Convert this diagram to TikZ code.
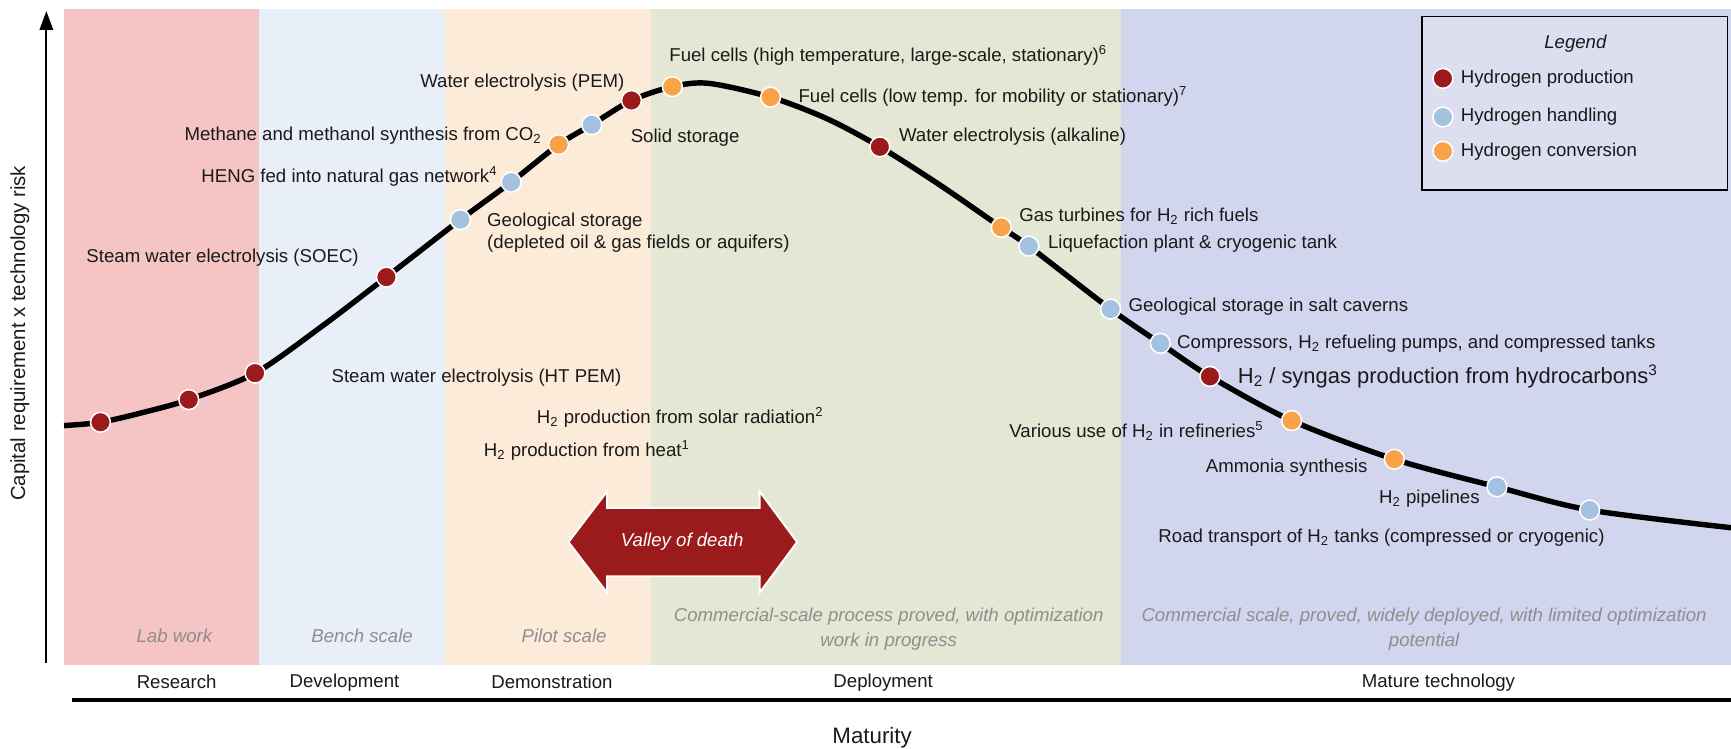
\documentclass[tikz,border=0pt]{standalone}
\usepackage{fontspec}
\setmainfont{Liberation Sans}
\usetikzlibrary{arrows.meta}
\definecolor{labband}{HTML}{F5C4C5}
\definecolor{benchband}{HTML}{E8EFF8}
\definecolor{pilotband}{HTML}{FDEBDA}
\definecolor{commband}{HTML}{E4E7D3}
\definecolor{matureband}{HTML}{D1D5EE}
\definecolor{legendfill}{HTML}{DDDEF0}
\definecolor{h2red}{HTML}{9B1A1C}
\definecolor{h2blue}{HTML}{A4C1E0}
\definecolor{h2orange}{HTML}{F9A24A}
\definecolor{bandtext}{HTML}{8E8E8E}
\definecolor{txt}{HTML}{1A1A1A}
\tikzset{
  lbl/.style={inner sep=0pt,text=txt,font=\fontsize{9.6}{11.5}\selectfont},
  bandlbl/.style={inner sep=0pt,text=bandtext,align=center,font=\fontsize{9.6}{12.5}\selectfont\itshape},
  dot/.style={circle,draw=white,line width=0.8pt,minimum size=3.6mm,inner sep=0pt},
  prod/.style={dot,fill=h2red},
  handl/.style={dot,fill=h2blue},
  conv/.style={dot,fill=h2orange}
}
\begin{document}
\begin{tikzpicture}[x=0.2mm,y=-0.2mm]
\useasboundingbox (0,0) rectangle (1568,678);
% maturity bands
\fill[labband] (58,8) rectangle (235,602);
\fill[benchband] (235,8) rectangle (403,602);
\fill[pilotband] (403,8) rectangle (590,602);
\fill[commband] (590,8) rectangle (1015,602);
\fill[matureband] (1015,8) rectangle (1568,602);
\node[bandlbl] (labw) at (158,576) {Lab work};
\node[bandlbl] (bench) at (328,576) {Bench scale};
\node[bandlbl] (pilot) at (511,576) {Pilot scale};
\node[bandlbl] (commw) at (805,570) {Commercial-scale process proved, with optimization\\work in progress};
\node[bandlbl] (maturew) at (1290,570) {Commercial scale, proved, widely deployed, with limited optimization\\potential};
% axes
\draw[line width=1.1pt,-{Triangle[length=3.4mm,width=2.4mm]}] (42,601) -- (42,10);
\draw[line width=1.7pt] (65,634) -- (1568,634);
\node[lbl,rotate=90,font=\fontsize{10.5}{12}\selectfont] (yax) at (18,302) {Capital requirement x technology risk};
\node[lbl,font=\fontsize{11.5}{13}\selectfont] (matur) at (790,668) {Maturity};
\node[lbl] (ph1) at (160,618) {Research};
\node[lbl] (ph2) at (312,618) {Development};
\node[lbl] (ph3) at (500,618) {Demonstration};
\node[lbl] (ph4) at (800,618) {Deployment};
\node[lbl] (ph5) at (1303,618) {Mature technology};
% valley of death
\fill[h2red,draw=white,line width=1pt] (515,491) -- (550,445) -- (550,460) -- (688,460) -- (688,445)
  -- (722,491) -- (688,537) -- (688,522) -- (550,522) -- (550,537) -- cycle;
\node[lbl,text=white,font=\fontsize{9.6}{11.5}\selectfont\itshape] (vod) at (618,491) {Valley of death};
% the curve
\coordinate (c0) at (58,385.5);
\coordinate (c1) at (91,382.5);
\coordinate (m1) at (130,373.5);
\coordinate (c2) at (171,362);
\coordinate (c3) at (231,338);
\coordinate (m2) at (291,296);
\coordinate (c4) at (350,251);
\coordinate (c5) at (417,199);
\coordinate (c6) at (463,165);
\coordinate (c7) at (506,131);
\coordinate (c8) at (536,113);
\coordinate (c9) at (572,91);
\coordinate (c10) at (609,78.5);
\coordinate (m3) at (642,75.5);
\coordinate (c11) at (698,88);
\coordinate (m4) at (749,107.5);
\coordinate (c12) at (797,133);
\coordinate (m5) at (852,168);
\coordinate (c13) at (907,206);
\coordinate (c14) at (932,223);
\coordinate (c15) at (1006,280);
\coordinate (c16) at (1051,311);
\coordinate (c17) at (1096,341);
\coordinate (c18) at (1170,381);
\coordinate (c19) at (1263,416);
\coordinate (c20) at (1356,441);
\coordinate (c21) at (1440,462);
\coordinate (c22) at (1568,478);
\draw[line width=2.8pt] plot[smooth,tension=0.5] coordinates {(c0) (c1) (m1) (c2) (c3) (m2) (c4) (c5) (c6) (c7) (c8) (c9) (c10) (m3) (c11) (m4) (c12) (m5) (c13) (c14) (c15) (c16) (c17) (c18) (c19) (c20) (c21) (c22)};
\node[prod] (d1) at (c1) {};
\node[prod] (d2) at (c2) {};
\node[prod] (d3) at (c3) {};
\node[prod] (d4) at (c4) {};
\node[handl] (d5) at (c5) {};
\node[handl] (d6) at (c6) {};
\node[conv] (d7) at (c7) {};
\node[handl] (d8) at (c8) {};
\node[prod] (d9) at (c9) {};
\node[conv] (d10) at (c10) {};
\node[conv] (d11) at (c11) {};
\node[prod] (d12) at (c12) {};
\node[conv] (d13) at (c13) {};
\node[handl] (d14) at (c14) {};
\node[handl] (d15) at (c15) {};
\node[handl] (d16) at (c16) {};
\node[prod] (d17) at (c17) {};
\node[conv] (d18) at (c18) {};
\node[conv] (d19) at (c19) {};
\node[handl] (d20) at (c20) {};
\node[handl] (d21) at (c21) {};
% technologies
\node[lbl,anchor=west] (soec) at (78,233) {Steam water electrolysis (SOEC)};
\node[lbl,anchor=west] (htpem) at (300,342) {Steam water electrolysis (HT PEM)};
\node[lbl,anchor=west] (solar) at (486,378) {H\textsubscript{2} production from solar radiation\textsuperscript{2}};
\node[lbl,anchor=west] (heat) at (438,408) {H\textsubscript{2} production from heat\textsuperscript{1}};
\node[lbl,anchor=east] (pem) at (566,75) {Water electrolysis (PEM)};
\node[lbl,anchor=east] (meth) at (491,123) {Methane and methanol synthesis from CO\textsubscript{2}};
\node[lbl,anchor=east] (heng) at (451,160) {HENG fed into natural gas network\textsuperscript{4}};
\node[lbl,anchor=west,align=left] (geo) at (441,211) {Geological storage\\(depleted oil \& gas fields or aquifers)};
\node[lbl,anchor=west] (solid) at (571,125) {Solid storage};
\node[lbl,anchor=west] (fchigh) at (606,50) {Fuel cells (high temperature, large-scale, stationary)\textsuperscript{6}};
\node[lbl,anchor=west] (fclow) at (723,87) {Fuel cells (low temp. for mobility or stationary)\textsuperscript{7}};
\node[lbl,anchor=west] (alk) at (814,124) {Water electrolysis (alkaline)};
\node[lbl,anchor=west] (turb) at (923,196) {Gas turbines for H\textsubscript{2} rich fuels};
\node[lbl,anchor=west] (liq) at (949,221) {Liquefaction plant \& cryogenic tank};
\node[lbl,anchor=west] (salt) at (1022,278) {Geological storage in salt caverns};
\node[lbl,anchor=west] (comp) at (1066,311) {Compressors, H\textsubscript{2} refueling pumps, and compressed tanks};
\node[lbl,anchor=west,font=\fontsize{11.3}{13}\selectfont] (syng) at (1121,341) {H\textsubscript{2} / syngas production from hydrocarbons\textsuperscript{3}};
\node[lbl,anchor=west] (refin) at (914,390) {Various use of H\textsubscript{2} in refineries\textsuperscript{5}};
\node[lbl,anchor=west] (ammo) at (1092,424) {Ammonia synthesis};
\node[lbl,anchor=west] (pipe) at (1249,452) {H\textsubscript{2} pipelines};
\node[lbl,anchor=west] (road) at (1049,487) {Road transport of H\textsubscript{2} tanks (compressed or cryogenic)};
% legend
\draw[fill=legendfill,line width=0.8pt] (1288,15) rectangle (1565,172);
\node[lbl,font=\fontsize{9.6}{11.5}\selectfont\itshape] (leg) at (1427,40) {Legend};
\node[prod] (lg1) at (1307,71) {};
\node[handl] (lg2) at (1307,106) {};
\node[conv] (lg3) at (1307,137) {};
\node[lbl,anchor=west] (lt1) at (1323,71) {Hydrogen production};
\node[lbl,anchor=west] (lt2) at (1323,106) {Hydrogen handling};
\node[lbl,anchor=west] (lt3) at (1323,137) {Hydrogen conversion};
\end{tikzpicture}
\end{document}
